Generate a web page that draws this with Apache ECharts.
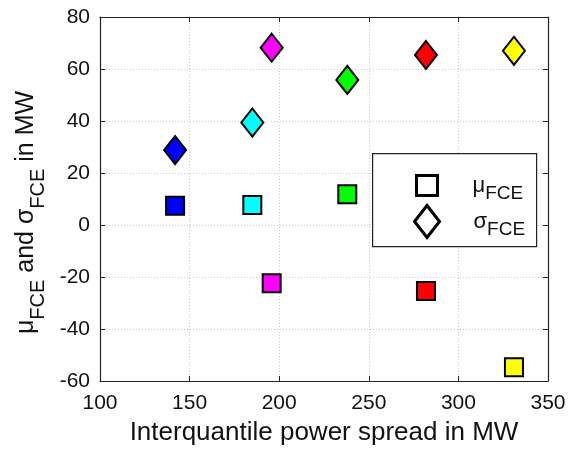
<!DOCTYPE html>
<html>
<head>
<meta charset="utf-8">
<script src="https://cdn.jsdelivr.net/npm/echarts@6/dist/echarts.min.js"></script>
<style>html,body{margin:0;padding:0;background:#fff}#c{width:570px;height:450px}</style>
</head>
<body>
<div id="c"></div>
<script>
var xValues = [141.9, 185.0, 195.8, 238.0, 281.9, 331.0];
var muValues = [7.4, 7.7, -22.4, 11.8, -25.4, -54.7];
var sigmaValues = [28.8, 39.4, 68.2, 55.8, 65.4, 67.0];
var pointColors = ['#0000ff', '#00ffff', '#ff00ff', '#00ff00', '#ff0000', '#ffff00'];
var xTicks = [100, 150, 200, 250, 300, 350];
var yTicks = [-60, -40, -20, 0, 20, 40, 60, 80];

var FONT = 'Liberation Sans, Arial, sans-serif';
var TXT = '#111';

function pts(vals) {
  return xValues.map(function (x, i) {
    return { value: [x, vals[i]], itemStyle: { color: pointColors[i] } };
  });
}

var chart = echarts.init(document.getElementById('c'), null, { renderer: 'canvas' });

var splitLineStyle = { show: true, lineStyle: { color: '#c8c8c8', type: [1, 2], width: 1 } };
var axisLineStyle = { show: true, onZero: false, lineStyle: { color: '#222', width: 1.2 } };
var tickStyle = { show: true, inside: true, length: 5, lineStyle: { color: '#222', width: 1 } };

var subRich = {
  m: { fontSize: 25, lineHeight: 25, fontFamily: FONT, color: TXT },
  s: { fontSize: 20, lineHeight: 20, fontFamily: FONT, color: TXT, padding: [25, 0, 0, 0] }
};
var legRich = {
  m: { fontSize: 22, lineHeight: 22, fontFamily: FONT, color: TXT },
  s: { fontSize: 19, lineHeight: 19, fontFamily: FONT, color: TXT, padding: [16, 0, 0, 0] }
};

chart.setOption({
  backgroundColor: '#fff',
  animation: false,
  grid: { left: 100, right: 22, top: 17, bottom: 69, containLabel: false, outerBoundsMode: 'none' },
  xAxis: [{
    type: 'value', min: xTicks[0], max: xTicks[xTicks.length - 1], interval: 50,
    position: 'bottom',
    axisLine: axisLineStyle, axisTick: tickStyle, splitLine: splitLineStyle,
    axisLabel: { fontSize: 21, fontFamily: FONT, color: TXT, margin: 12 },
    name: 'Interquantile power spread in MW', nameLocation: 'middle', nameGap: 39,
    nameTextStyle: { fontSize: 26, fontFamily: FONT, color: TXT }
  }, {
    type: 'value', min: xTicks[0], max: xTicks[xTicks.length - 1], interval: 50,
    position: 'top',
    axisLine: axisLineStyle, axisTick: tickStyle, splitLine: { show: false },
    axisLabel: { show: false }
  }],
  yAxis: [{
    type: 'value', min: yTicks[0], max: yTicks[yTicks.length - 1], interval: 20,
    position: 'left',
    axisLine: axisLineStyle, axisTick: tickStyle, splitLine: splitLineStyle,
    axisLabel: { fontSize: 21, fontFamily: FONT, color: TXT, margin: 10 },
    name: '{m|μ}{s|FCE}{m| and σ}{s|FCE}{m| in MW}', nameLocation: 'middle', nameGap: 53,
    nameTextStyle: { rich: subRich, fontSize: 25, fontFamily: FONT, color: TXT, padding: [0, 27, 0, 0] }
  }, {
    type: 'value', min: yTicks[0], max: yTicks[yTicks.length - 1], interval: 20,
    position: 'right',
    axisLine: axisLineStyle, axisTick: tickStyle, splitLine: { show: false },
    axisLabel: { show: false }
  }],
  graphic: [{
    type: 'rect', left: 372, top: 153, z: 1,
    shape: { width: 164, height: 93 },
    style: { fill: '#fff', stroke: '#222', lineWidth: 1.2 }
  }],
  legend: [{
    data: [{ name: 'mu', icon: 'rect' }],
    orient: 'vertical', left: 415, top: 168, padding: 0, z: 5,
    itemWidth: 21, itemHeight: 20, selectedMode: false,
    itemStyle: { color: '#fff', borderColor: '#000', borderWidth: 3 },
    formatter: function () { return '{m|μ}{s|FCE}'; },
    textStyle: { rich: legRich, padding: [0, 0, 0, 30] }
  }, {
    data: [{ name: 'sigma', icon: 'diamond' }],
    orient: 'vertical', left: 413, top: 204, padding: 0, z: 5,
    itemWidth: 25, itemHeight: 32, selectedMode: false,
    itemStyle: { color: '#fff', borderColor: '#000', borderWidth: 3 },
    formatter: function () { return '{m|σ}{s|FCE}'; },
    textStyle: { rich: legRich, padding: [0, 0, 0, 29] }
  }],
  series: [{
    name: 'mu', type: 'scatter', symbol: 'rect', symbolSize: 18,
    itemStyle: { color: '#fff', borderColor: '#000', borderWidth: 2, opacity: 1 },
    data: pts(muValues), z: 3
  }, {
    name: 'sigma', type: 'scatter', symbol: 'diamond', symbolSize: [22, 28],
    itemStyle: { color: '#fff', borderColor: '#000', borderWidth: 2, opacity: 1 },
    data: pts(sigmaValues), z: 3
  }]
});
</script>
</body>
</html>
